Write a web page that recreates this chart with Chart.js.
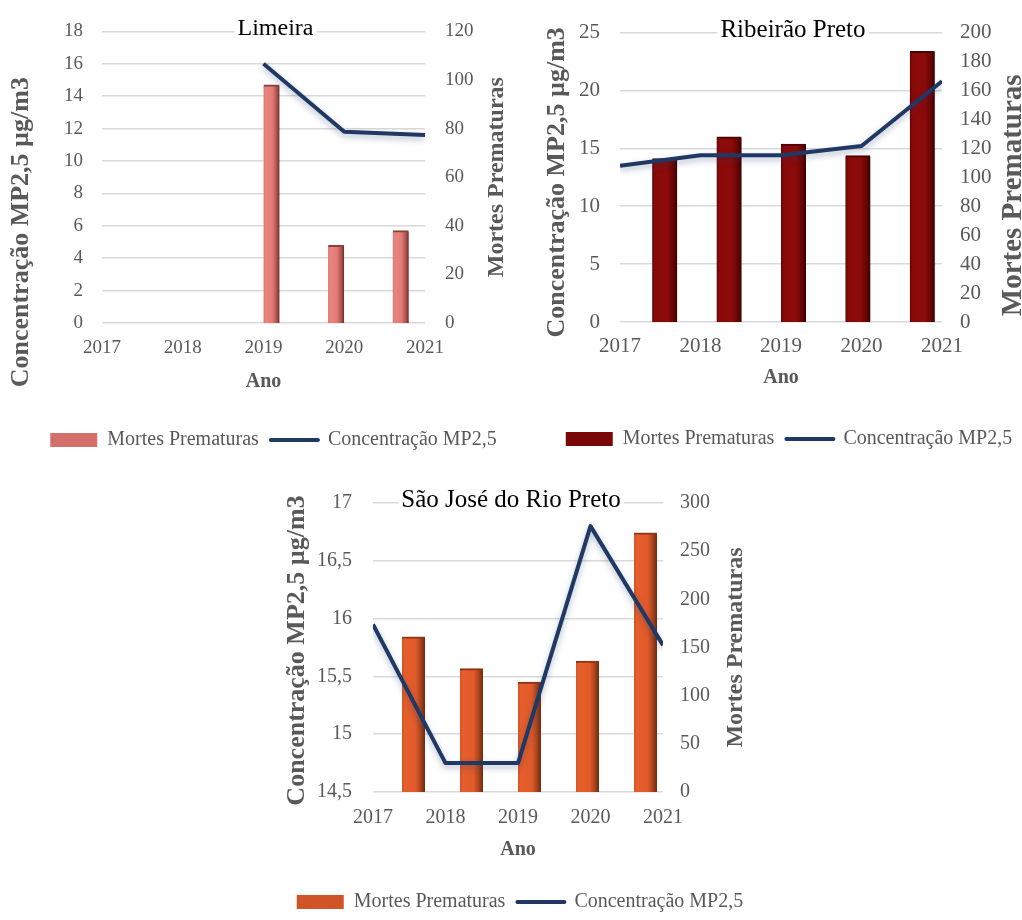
<!DOCTYPE html>
<html lang="pt-BR">
<head>
<meta charset="UTF-8" />
<title>Mortes prematuras e MP2,5</title>
<style>
  html, body { margin: 0; padding: 0; background: #ffffff; overflow: hidden; }
  body { width: 1022px; height: 920px; position: relative; }
  canvas { position: absolute; }
</style>
</head>
<body>
<canvas id="limeira" width="547" height="460" style="left:0px;top:0px"></canvas>
<canvas id="ribeirao" width="506" height="459" style="left:536px;top:0px"></canvas>
<canvas id="rioPreto" width="500" height="452" style="left:270px;top:470px"></canvas>

<script src="https://cdn.jsdelivr.net/npm/chart.js"></script>
<script>
// anos do eixo x
const years = [2017, 2018, 2019, 2020, 2021];

// Limeira
const limeiraMortes = [null, null, 98, 32, 38];
const limeiraMP25 = [null, null, 16.0, 11.8, 11.6];
const limeiraConcTicks = [0, 18, 2];
const limeiraMortesTicks = [0, 120, 20];

// Ribeirão Preto
const ribeiraoMortes = [113, 128, 123, 115, 187];
const ribeiraoMP25 = [13.5, 14.4, 14.4, 15.2, 20.8];
const ribeiraoConcTicks = [0, 25, 5];
const ribeiraoMortesTicks = [0, 200, 20];

// São José do Rio Preto
const rioPretoMortes = [161, 128, 114, 136, 269];
const rioPretoMP25 = [15.95, 14.75, 14.75, 16.8, 15.77];
const rioPretoConcTicks = [14.5, 17, 0.5];
const rioPretoMortesTicks = [0, 300, 50];

const FONT = '"Liberation Serif", "Times New Roman", serif';
const GREY = '#595959';
const NAVY = '#1f3864';

// sombreado horizontal das barras, calculado sobre a posição final de cada barra
// (cada barra recebe a sua própria cópia das opções, que podem vir partilhadas)
const barShade = {
  id: 'barShade',
  beforeDatasetDraw(chart, args) {
    if (args.meta.type !== 'bar') return;
    const stops = chart.data.datasets[args.index].shadeStops;
    args.meta.data.forEach(bar => {
      const { x, width } = bar.getProps(['x', 'width'], true);
      if (!isFinite(x) || !isFinite(width)) return;
      const g = chart.ctx.createLinearGradient(x - width / 2, 0, x + width / 2, 0);
      stops.forEach(([o, col]) => g.addColorStop(o, col));
      bar.options = Object.assign({}, bar.options, { backgroundColor: g });
    });
  }
};

// brilho suave por baixo da linha
const lineGlow = {
  id: 'lineGlow',
  beforeDatasetDraw(chart, args) {
    if (args.meta.type !== 'line') return;
    const ctx = chart.ctx;
    ctx.save();
    ctx.shadowColor = 'rgba(31, 56, 100, 0.35)';
    ctx.shadowBlur = 6;
    ctx.shadowOffsetY = 3;
  },
  afterDatasetDraw(chart, args) {
    if (args.meta.type === 'line') chart.ctx.restore();
  }
};

// título sobreposto e títulos dos eixos y (ambos lidos de baixo para cima)
const panelText = {
  id: 'panelText',
  afterDraw(chart, args, o) {
    const { ctx, chartArea: a } = chart;
    const cx = (a.left + a.right) / 2;
    const cy = (a.top + a.bottom) / 2;
    ctx.save();

    ctx.font = `${o.titleSize}px ${FONT}`;
    ctx.textAlign = 'center';
    ctx.textBaseline = 'alphabetic';
    const tx = cx + o.titleShift;
    const ty = a.top + 4;
    const w = ctx.measureText(o.title).width;
    ctx.fillStyle = '#ffffff';
    ctx.fillRect(tx - w / 2 - 3, ty - o.titleSize * 0.72, w + 6, o.titleSize * 0.95);
    ctx.fillStyle = '#000000';
    ctx.fillText(o.title, tx, ty);

    ctx.fillStyle = GREY;
    ctx.textBaseline = 'middle';

    ctx.save();
    ctx.font = `bold ${o.leftSize}px ${FONT}`;
    ctx.translate(a.left - o.leftGap, cy + o.leftDy);
    ctx.rotate(-Math.PI / 2);
    ctx.fillText('Concentração MP2,5 µg/m3', 0, 0);
    ctx.restore();

    ctx.save();
    ctx.font = `bold ${o.rightSize}px ${FONT}`;
    ctx.translate(a.right + o.rightGap, cy + o.rightDy);
    ctx.rotate(-Math.PI / 2);
    ctx.fillText('Mortes Prematuras', 0, 0);
    ctx.restore();

    ctx.restore();
  }
};

function buildPanel(id, p) {
  const lineData = years
    .map((yr, i) => ({ x: yr, y: p.conc[i] }))
    .filter(pt => pt.y !== null);

  return new Chart(document.getElementById(id), {
    type: 'bar',
    data: {
      labels: years.map(String),
      datasets: [
        {
          type: 'line',
          label: 'Concentração MP2,5',
          data: lineData,
          xAxisID: 'x2',
          yAxisID: 'y',
          borderColor: NAVY,
          borderWidth: 4,
          pointRadius: 0,
          tension: 0,
          borderJoinStyle: 'round',
          order: 0,
          legendColor: NAVY
        },
        {
          type: 'bar',
          label: 'Mortes Prematuras',
          data: p.mortes,
          xAxisID: 'x',
          yAxisID: 'y1',
          barThickness: p.barWidth,
          backgroundColor: p.legendColor,
          shadeStops: p.stops,
          borderColor: p.topEdge,
          borderWidth: { top: 2, left: 0, right: 0, bottom: 0 },
          borderSkipped: 'start',
          order: 1,
          legendColor: p.legendColor
        }
      ]
    },
    options: {
      responsive: false,
      animation: false,
      devicePixelRatio: 1,
      layout: { padding: { top: p.top, left: 0, right: 0, bottom: 0 } },
      scales: {
        x: {
          type: 'category',
          display: false,
          offset: true,
          grid: { display: false }
        },
        x2: {
          type: 'linear',
          position: 'bottom',
          offset: false,
          min: years[0],
          max: years[years.length - 1],
          grid: { display: false, drawTicks: false, offset: false },
          border: { display: false },
          ticks: {
            stepSize: 1,
            autoSkip: false,
            maxRotation: 0,
            padding: p.xTickPad,
            color: GREY,
            font: { family: FONT, size: p.tickSize },
            callback: v => String(v)
          },
          title: {
            display: true,
            text: 'Ano',
            color: GREY,
            font: { family: FONT, size: 20, weight: 'bold' },
            padding: { top: 0, bottom: p.anoPad }
          },
          afterFit: s => { s.height = p.xHeight; }
        },
        y: {
          position: 'left',
          min: p.concTicks[0],
          max: p.concTicks[1],
          grid: { color: '#d9d9d9', lineWidth: 1.5, drawTicks: false },
          border: { display: false },
          ticks: {
            stepSize: p.concTicks[2],
            padding: p.leftTickPad,
            color: GREY,
            font: { family: FONT, size: p.tickSize },
            callback: v => String(v).replace('.', ',')
          },
          afterFit: s => { s.width = p.leftWidth; }
        },
        y1: {
          position: 'right',
          min: p.mortesTicks[0],
          max: p.mortesTicks[1],
          grid: { display: false, drawTicks: false },
          border: { display: false },
          ticks: {
            stepSize: p.mortesTicks[2],
            padding: p.rightTickPad,
            color: GREY,
            font: { family: FONT, size: p.tickSize },
            callback: v => String(v)
          },
          afterFit: s => { s.width = p.rightWidth; }
        }
      },
      plugins: {
        tooltip: { enabled: false },
        title: { display: false },
        legend: {
          position: 'bottom',
          labels: {
            usePointStyle: true,
            pointStyleWidth: 47,
            boxHeight: 14,
            padding: 12,
            color: GREY,
            font: { family: FONT, size: 20 },
            generateLabels: chart => chart.data.datasets.slice().reverse().map(ds => ({
              text: ds.label,
              fillStyle: ds.legendColor,
              strokeStyle: ds.legendColor,
              lineWidth: ds.type === 'line' ? 4 : 0,
              lineCap: 'round',
              pointStyle: ds.type === 'line' ? 'line' : 'rect',
              fontColor: GREY,
              hidden: false,
              datasetIndex: chart.data.datasets.indexOf(ds)
            }))
          }
        },
        panelText: {
          title: p.title,
          titleSize: p.titleSize,
          titleShift: p.titleShift,
          leftSize: 26,
          leftGap: p.leftGap,
          leftDy: p.leftDy,
          rightSize: p.rightSize,
          rightGap: p.rightGap,
          rightDy: p.rightDy
        }
      }
    },
    plugins: [barShade, lineGlow, panelText]
  });
}

buildPanel('limeira', {
  title: 'Limeira', titleSize: 24, titleShift: 12,
  mortes: limeiraMortes, conc: limeiraMP25,
  concTicks: limeiraConcTicks, mortesTicks: limeiraMortesTicks,
  top: 29, leftWidth: 102, rightWidth: 122, xHeight: 95,
  xTickPad: 14, anoPad: 24, leftTickPad: 19, rightTickPad: 20, tickSize: 19,
  leftGap: 81, leftDy: 55, rightSize: 24, rightGap: 72, rightDy: 0,
  barWidth: 16,
  stops: [[0, '#d9716b'], [0.12, '#e8847e'], [0.55, '#e27b75'], [0.8, '#b55753'], [1, '#6a2b29']],
  topEdge: '#8a3f3c', legendColor: '#d4706a'
});

buildPanel('ribeirao', {
  title: 'Ribeirão Preto', titleSize: 25, titleShift: 12,
  mortes: ribeiraoMortes, conc: ribeiraoMP25,
  concTicks: ribeiraoConcTicks, mortesTicks: ribeiraoMortesTicks,
  top: 28, leftWidth: 84, rightWidth: 100, xHeight: 95,
  xTickPad: 12, anoPad: 27, leftTickPad: 20, rightTickPad: 18, tickSize: 21,
  leftGap: 63, leftDy: 5, rightSize: 29, rightGap: 72, rightDy: 18,
  barWidth: 25,
  stops: [[0, '#640505'], [0.12, '#8a0a0a'], [0.6, '#8c0a0a'], [0.85, '#650505'], [1, '#3a0101']],
  topEdge: '#4a0202', legendColor: '#7a0707'
});

buildPanel('rioPreto', {
  title: 'São José do Rio Preto', titleSize: 25, titleShift: -7,
  mortes: rioPretoMortes, conc: rioPretoMP25,
  concTicks: rioPretoConcTicks, mortesTicks: rioPretoMortesTicks,
  top: 27, leftWidth: 103, rightWidth: 107, xHeight: 88,
  xTickPad: 14, anoPad: 18, leftTickPad: 21, rightTickPad: 17, tickSize: 20,
  leftGap: 76, leftDy: 3, rightSize: 24, rightGap: 73, rightDy: 0,
  barWidth: 23,
  stops: [[0, '#cf5529'], [0.12, '#e65e2b'], [0.6, '#e05a2a'], [0.82, '#a8441d'], [1, '#6e2a10']],
  topEdge: '#8a3514', legendColor: '#cf5529'
});
</script>
</body>
</html>
